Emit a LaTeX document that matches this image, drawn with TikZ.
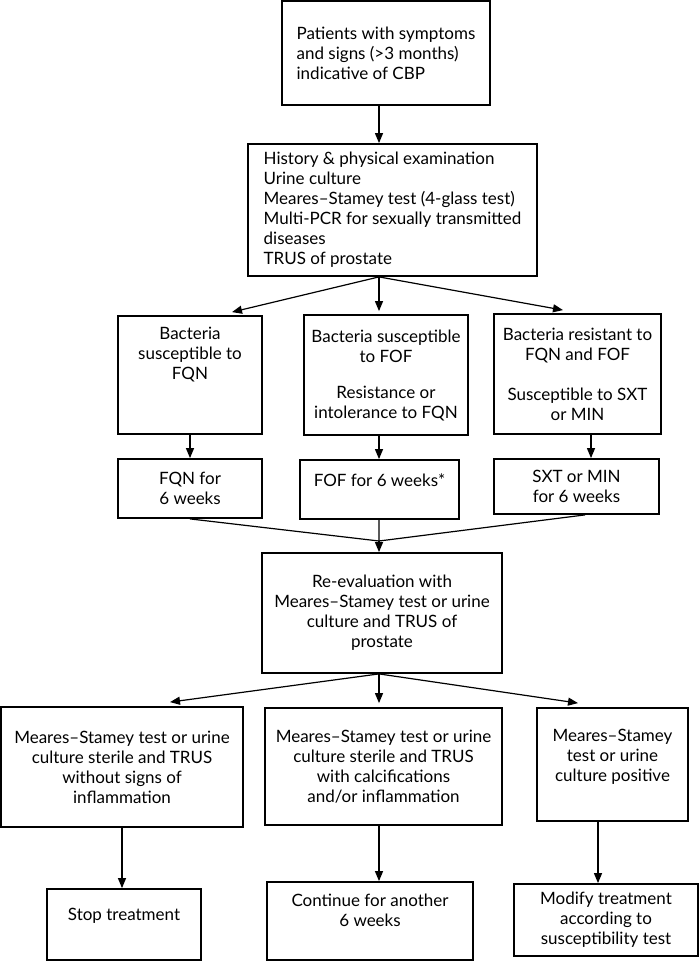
\documentclass[tikz,border=0pt]{standalone}
\usepackage{fontspec}
\setmainfont{Lato}
\usetikzlibrary{arrows.meta}

\begin{document}
\begin{tikzpicture}[x=1pt, y=-1pt,
  flowbox/.style={draw, rectangle, line width=1.8pt, align=center, inner sep=0pt},
  arr/.style={-{Triangle[length=10pt,width=8pt]}, line width=1.2pt},
  font=\fontsize{17}{20}\selectfont]
\useasboundingbox (0,0) rectangle (700,961);
\coordinate (axis) at (379,0);

% Presentation and work-up
\node[flowbox, align=left, minimum width=208pt, minimum height=104pt] (pat) at (386,53) {Patients with symptoms\\and signs (>3 months)\\indicative of CBP};
\node[flowbox, align=left, minimum width=289pt, minimum height=132pt] (hist) at (392.5,210) {History \& physical examination\\Urine culture\\Meares--Stamey test (4-glass test)\\Multi-PCR for sexually transmitted\\diseases\\TRUS of prostate};

% Susceptibility
\node[flowbox, minimum width=144pt, minimum height=118pt, text depth=43pt] (fqn) at (190,375) {Bacteria\\susceptible to\\FQN};
\node[flowbox, minimum width=164pt, minimum height=120pt] (fof) at (386,375) {Bacteria susceptible\\to FOF\\[16pt]Resistance or\\intolerance to FQN};
\node[flowbox, minimum width=167pt, minimum height=120pt] (sxt) at (577.5,374) {Bacteria resistant to\\FQN and FOF\\[20pt]Susceptible to SXT\\or MIN};

% Treatment
\node[flowbox, minimum width=144pt, minimum height=59pt] (fqnsix) at (190,488.5) {FQN for\\6 weeks};
\node[flowbox, minimum width=159pt, minimum height=59pt, text depth=19pt] (fofsix) at (379.5,489.5) {FOF for 6 weeks*};
\node[flowbox, minimum width=165pt, minimum height=55pt] (sxtsix) at (576.5,486.5) {SXT or MIN\\for 6 weeks};
\coordinate (merge) at (379,541);

% Re-evaluation
\node[flowbox, minimum width=240pt, minimum height=120pt] (reval) at (382,613) {Re-evaluation with\\Meares--Stamey test or urine\\culture and TRUS of\\prostate};

% Outcomes
\node[flowbox, minimum width=242pt, minimum height=120pt] (sterile) at (122,767) {Meares--Stamey test or urine\\culture sterile and TRUS\\without signs of\\inflammation};
\node[flowbox, minimum width=237pt, minimum height=117pt] (calc) at (383.5,766.5) {Meares--Stamey test or urine\\culture sterile and TRUS\\with calcifications\\and/or inflammation};
\node[flowbox, minimum width=151pt, minimum height=113pt, text depth=18.5pt] (positive) at (612.5,764.5) {Meares--Stamey\\test or urine\\culture positive};

\node[flowbox, minimum width=154pt, minimum height=71pt, text depth=20.5pt] (stop) at (124,924.5) {Stop treatment};
\node[flowbox, minimum width=206pt, minimum height=78pt, text depth=22pt] (another) at (370,921) {Continue for another\\6 weeks};
\node[flowbox, minimum width=184pt, minimum height=72pt] (modify) at (606,920) {Modify treatment\\according to\\susceptibility test};

% Arrows
\draw[arr] (pat.south -| axis) -- (hist.north -| axis);
\draw[arr] (hist.south -| axis) -- ([xshift=42pt,yshift=3pt]fqn.north);
\draw[arr] (hist.south -| axis) -- ([yshift=3pt]fof.north -| axis);
\draw[arr] (hist.south -| axis) -- ([xshift=-14.5pt,yshift=3pt]sxt.north);

\draw[arr] (fqn) -- (fqnsix);
\draw[arr] (fof.south -| axis) -- (fofsix.north -| axis);
\draw[arr] ([xshift=13.5pt]sxt.south) -- ([xshift=14.5pt]sxtsix.north);

\draw[line width=1.2pt] (fqnsix.south) -- (merge) (fofsix.south -| axis) -- (merge) ([xshift=8.5pt]sxtsix.south) -- (merge);
\draw[arr] (merge) -- (reval.north -| axis);

\draw[arr] (reval.south -| axis) -- ([xshift=48pt,yshift=4pt]sterile.north);
\draw[arr] (reval.south -| axis) -- ([yshift=4pt]calc.north -| axis);
\draw[arr] (reval.south -| axis) -- ([xshift=-34.5pt,yshift=4pt]positive.north);

\draw[arr] (sterile.south) -- (sterile.south |- stop.north);
\draw[arr] (calc.south -| axis) -- (another.north -| axis);
\draw[arr] ([xshift=-14.5pt]positive.south) -- ([xshift=-14.5pt]positive.south |- modify.north);
\end{tikzpicture}
\end{document}
